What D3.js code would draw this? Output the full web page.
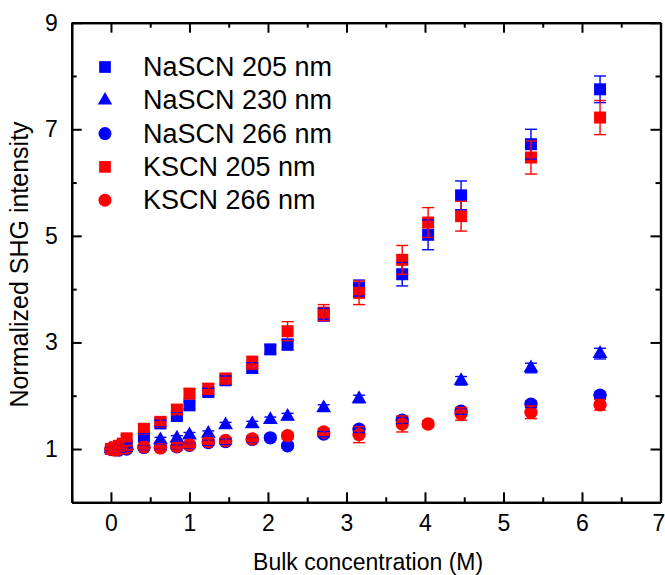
<!DOCTYPE html>
<html>
<head>
<meta charset="utf-8">
<script src="https://cdn.jsdelivr.net/npm/d3@7"></script>
<style>
  body { margin: 0; background: #fff; }
  text { font-family: "Liberation Sans", Arial, sans-serif; fill: #000; }
</style>
</head>
<body>
<div id="chart"></div>
<script>
// 濃度 (M) と規格化SHG強度
const naX205 = [0, 0.05, 0.1, 0.15, 0.2, 0.42, 0.63, 0.84, 1.0, 1.24, 1.46, 1.8, 2.03, 2.25, 2.71, 3.16, 3.71, 4.04, 4.46, 5.35, 6.23];
const naY205 = [1.0, 0.98, 1.02, 1.05, 1.08, 1.23, 1.48, 1.62, 1.82, 2.07, 2.29, 2.52, 2.87, 2.96, 3.52, 4.02, 4.28, 5.02, 5.76, 6.72, 7.75];
const naE205 = [0.04, 0.04, 0.05, 0.05, 0.05, 0.06, 0.06, 0.06, 0.07, 0.07, 0.08, 0.1, 0.08, 0.1, 0.12, 0.15, 0.22, 0.28, 0.27, 0.28, 0.25];

const naX230 = [0, 0.1, 0.2, 0.63, 0.84, 1.0, 1.24, 1.46, 1.8, 2.03, 2.25, 2.71, 3.16, 4.46, 5.35, 6.23];
const naY230 = [1.0, 1.03, 1.06, 1.17, 1.2, 1.26, 1.29, 1.45, 1.47, 1.55, 1.61, 1.77, 1.94, 2.28, 2.52, 2.79];
const naE230 = [0.04, 0.04, 0.04, 0.05, 0.05, 0.05, 0.05, 0.05, 0.05, 0.05, 0.06, 0.06, 0.07, 0.08, 0.09, 0.1];

const naX266 = [0, 0.1, 0.2, 0.42, 0.63, 0.84, 1.0, 1.24, 1.46, 1.8, 2.03, 2.25, 2.71, 3.16, 3.71, 4.46, 5.35, 6.23];
const naY266 = [1.0, 0.98, 1.0, 1.03, 1.03, 1.04, 1.07, 1.12, 1.14, 1.18, 1.21, 1.06, 1.28, 1.37, 1.54, 1.71, 1.84, 2.01];
const naE266 = [0.04, 0.04, 0.04, 0.04, 0.04, 0.04, 0.05, 0.05, 0.05, 0.05, 0.05, 0.05, 0.05, 0.06, 0.06, 0.06, 0.06, 0.06];

const kX205 = [0, 0.05, 0.1, 0.15, 0.2, 0.42, 0.63, 0.84, 1.0, 1.24, 1.46, 1.8, 2.25, 2.71, 3.16, 3.71, 4.04, 4.46, 5.35, 6.23];
const kY205 = [1.0, 1.03, 1.06, 1.1, 1.2, 1.38, 1.51, 1.74, 2.04, 2.13, 2.32, 2.62, 3.21, 3.56, 3.93, 4.55, 5.25, 5.37, 6.47, 7.22];
const kE205 = [0.05, 0.05, 0.05, 0.05, 0.06, 0.07, 0.07, 0.08, 0.09, 0.1, 0.1, 0.12, 0.18, 0.15, 0.22, 0.27, 0.28, 0.28, 0.31, 0.32];

const kX266 = [0, 0.05, 0.1, 0.2, 0.42, 0.63, 0.84, 1.0, 1.24, 1.46, 1.8, 2.25, 2.71, 3.16, 3.71, 4.04, 4.46, 5.35, 6.23];
const kY266 = [1.0, 0.98, 1.0, 1.02, 1.04, 1.02, 1.05, 1.08, 1.14, 1.16, 1.19, 1.25, 1.32, 1.27, 1.47, 1.47, 1.66, 1.69, 1.83];
const kE266 = [0.04, 0.04, 0.04, 0.04, 0.04, 0.04, 0.05, 0.05, 0.05, 0.05, 0.05, 0.06, 0.06, 0.15, 0.15, 0.06, 0.12, 0.12, 0.1];

const seriesNames = ["NaSCN 205 nm", "NaSCN 230 nm", "NaSCN 266 nm", "KSCN 205 nm", "KSCN 266 nm"];
const seriesColors = ["#0000ff", "#0000ff", "#0000ff", "#ff0000", "#ff0000"];
const seriesShapes = ["square", "triangle", "circle", "square", "circle"];

const xTicks = [0, 1, 2, 3, 4, 5, 6, 7];
const yTicks = [1, 3, 5, 7, 9];

const series = [
  { xs: naX205, ys: naY205, es: naE205 },
  { xs: naX230, ys: naY230, es: naE230 },
  { xs: naX266, ys: naY266, es: naE266 },
  { xs: kX205, ys: kY205, es: kE205 },
  { xs: kX266, ys: kY266, es: kE266 },
].map((s, i) => ({
  name: seriesNames[i], color: seriesColors[i], shape: seriesShapes[i],
  points: s.xs.map((x, j) => ({ x: x, y: s.ys[j], e: s.es[j] }))
}));

const width = 665;
const height = 575;
const margin = { top: 22.7, right: 4.5, bottom: 72.7, left: 71.7 };

const svg = d3.select("#chart").append("svg")
  .attr("width", width)
  .attr("height", height);

const xScale = d3.scaleLinear().domain([-0.5, 7]).range([margin.left, width - margin.right]);
const yScale = d3.scaleLinear().domain([0, 9]).range([height - margin.bottom, margin.top]);

// シンボル
const shapeSym = { square: d3.symbolSquare, triangle: d3.symbolTriangle, circle: d3.symbolCircle };
const shapeSize = { square: 144, triangle: 95, circle: 140 };

// 軸 (内向き目盛り)
const x0 = margin.left, x1 = width - margin.right;
const y0 = height - margin.bottom, y1 = margin.top;

const xMinor = d3.range(-0.5, 7.01, 0.5).filter(v => !xTicks.includes(v));
const yMinor = [2, 4, 6, 8];

svg.append("g").attr("transform", `translate(0,${y0})`)
  .call(d3.axisBottom(xScale).tickValues(xTicks).tickSizeInner(-10).tickSizeOuter(0).tickPadding(12).tickFormat(d3.format("d")))
  .call(g => g.selectAll("text").style("font-size", "23px").attr("font-family", null))
  .call(g => g.selectAll(".tick:last-of-type text").attr("dx", "-2"));
svg.append("g").attr("transform", `translate(0,${y0})`)
  .call(d3.axisBottom(xScale).tickValues(xMinor).tickSizeInner(-5).tickSizeOuter(0).tickFormat(""));
svg.append("g").attr("transform", `translate(0,${y1})`)
  .call(d3.axisTop(xScale).tickValues(xTicks).tickSizeInner(-10).tickSizeOuter(0).tickFormat(""));
svg.append("g").attr("transform", `translate(0,${y1})`)
  .call(d3.axisTop(xScale).tickValues(xMinor).tickSizeInner(-5).tickSizeOuter(0).tickFormat(""));

svg.append("g").attr("transform", `translate(${x0},0)`)
  .call(d3.axisLeft(yScale).tickValues(yTicks).tickSizeInner(-10).tickSizeOuter(0).tickPadding(14).tickFormat(d3.format("d")))
  .call(g => g.selectAll("text").style("font-size", "23px").attr("font-family", null));
svg.append("g").attr("transform", `translate(${x0},0)`)
  .call(d3.axisLeft(yScale).tickValues(yMinor).tickSizeInner(-5).tickSizeOuter(0).tickFormat(""));
svg.append("g").attr("transform", `translate(${x1},0)`)
  .call(d3.axisRight(yScale).tickValues(yTicks).tickSizeInner(-10).tickSizeOuter(0).tickFormat(""));
svg.append("g").attr("transform", `translate(${x1},0)`)
  .call(d3.axisRight(yScale).tickValues(yMinor).tickSizeInner(-5).tickSizeOuter(0).tickFormat(""));

svg.selectAll(".domain").attr("stroke", "#000").attr("stroke-width", 2.2);
svg.selectAll(".tick line").attr("stroke", "#000").attr("stroke-width", 2);

// 軸ラベル
svg.append("text")
  .attr("x", (x0 + x1) / 2 + 2)
  .attr("y", 570)
  .attr("text-anchor", "middle")
  .style("font-size", "23px")
  .text("Bulk concentration (M)");

svg.append("text")
  .attr("transform", `translate(28,${(y0 + y1) / 2 + 2}) rotate(-90)`)
  .attr("text-anchor", "middle")
  .style("font-size", "25px")
  .text("Normalized SHG intensity");

// マーカー
const plot = svg.append("g");
series.forEach(s => {
  plot.append("g").selectAll("path")
    .data(s.points)
    .join("path")
    .attr("transform", d => `translate(${xScale(d.x)},${yScale(d.y)})`)
    .attr("d", d3.symbol().type(shapeSym[s.shape]).size(shapeSize[s.shape]))
    .attr("fill", s.color);
});

// エラーバー
const capW = 6;
series.forEach(s => {
  const g = plot.append("g").attr("stroke", s.color).attr("stroke-width", 1.4).attr("fill", "none");
  g.selectAll("line.v").data(s.points).join("line").attr("class", "v")
    .attr("x1", d => xScale(d.x)).attr("x2", d => xScale(d.x))
    .attr("y1", d => yScale(d.y + d.e)).attr("y2", d => yScale(d.y - d.e));
  g.selectAll("line.t").data(s.points).join("line").attr("class", "t")
    .attr("x1", d => xScale(d.x) - capW).attr("x2", d => xScale(d.x) + capW)
    .attr("y1", d => yScale(d.y + d.e)).attr("y2", d => yScale(d.y + d.e));
  g.selectAll("line.b").data(s.points).join("line").attr("class", "b")
    .attr("x1", d => xScale(d.x) - capW).attr("x2", d => xScale(d.x) + capW)
    .attr("y1", d => yScale(d.y - d.e)).attr("y2", d => yScale(d.y - d.e));
});

// 凡例
const legend = svg.append("g");
series.forEach((s, i) => {
  const ly = 67 + i * 33.3;
  legend.append("path")
    .attr("transform", `translate(105,${ly})`)
    .attr("d", d3.symbol().type(shapeSym[s.shape]).size(shapeSize[s.shape] * 0.95))
    .attr("fill", s.color);
  legend.append("text")
    .attr("x", 143)
    .attr("y", ly + 9)
    .style("font-size", "27px")
    .text(s.name);
});
</script>
</body>
</html>
